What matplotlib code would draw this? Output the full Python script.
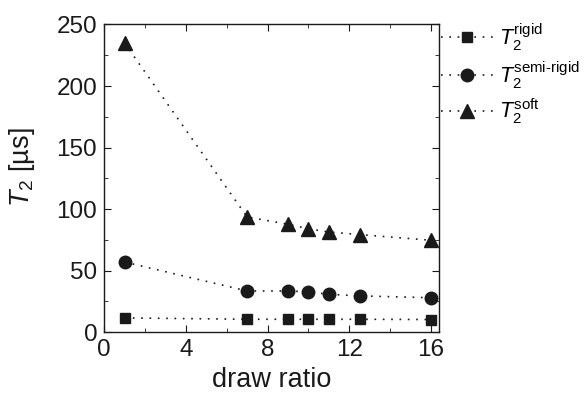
import numpy as np
import matplotlib.pyplot as plt
from matplotlib.ticker import MultipleLocator

plt.rcParams['font.family'] = ['Liberation Sans', 'DejaVu Sans']
plt.rcParams['mathtext.fontset'] = 'custom'
plt.rcParams['mathtext.rm'] = 'Liberation Sans'
plt.rcParams['mathtext.it'] = 'Liberation Sans:italic'

# datos
draw_ratio = [1, 7, 9, 10, 11, 12.5, 16]
t2_rigid = [11.6, 10.5, 10.5, 10.5, 10.5, 10.5, 10.3]
t2_semi = [57, 33.5, 33.5, 32.7, 30.8, 29.5, 28]
t2_soft = [235, 93.6, 87.7, 84, 81.4, 79.3, 74.7]

labels = [r'$T_2^{\mathrm{rigid}}$', r'$T_2^{\mathrm{semi\text{-}rigid}}$', r'$T_2^{\mathrm{soft}}$']

fig = plt.figure(figsize=(5.88, 3.95), dpi=100)
ax = fig.add_axes([0.177, 0.159, 0.570, 0.779])

ls = (0, (1, 4))
c = '#1a1a1a'
ax.plot(draw_ratio, t2_rigid, ls=ls, color=c, lw=1.2, marker='s', ms=7.5, label=labels[0])
ax.plot(draw_ratio, t2_semi, ls=ls, color=c, lw=1.2, marker='o', ms=9, label=labels[1])
ax.plot(draw_ratio, t2_soft, ls=ls, color=c, lw=1.2, marker='^', ms=10.5, label=labels[2])

ax.set_xlim(0, 16.4)
ax.set_ylim(0, 250)
ax.xaxis.set_major_locator(MultipleLocator(4))
ax.xaxis.set_minor_locator(MultipleLocator(2))
ax.yaxis.set_major_locator(MultipleLocator(50))
ax.yaxis.set_minor_locator(MultipleLocator(25))
ax.tick_params(which='both', direction='in', top=True, right=True, labelsize=17.5, colors=c)
ax.tick_params(which='major', length=5, pad=5)
ax.tick_params(which='minor', length=3)
for s in ax.spines.values():
    s.set_linewidth(1.0)
    s.set_color(c)

ax.set_xlabel('draw ratio', fontsize=19.5, color=c, labelpad=4)
ax.set_ylabel(r'$T_2$ [µs]', fontsize=19.5, color=c)
ax.yaxis.set_label_coords(-0.20, 0.536)

leg = ax.legend(loc='upper left', bbox_to_anchor=(441 / 588, 1 - 21 / 395),
                bbox_transform=fig.transFigure, frameon=False, borderpad=0, borderaxespad=0,
                fontsize=15.5, handlelength=2.4, labelspacing=0.28, handletextpad=0.3)

fig.savefig('out.png', dpi=100)
